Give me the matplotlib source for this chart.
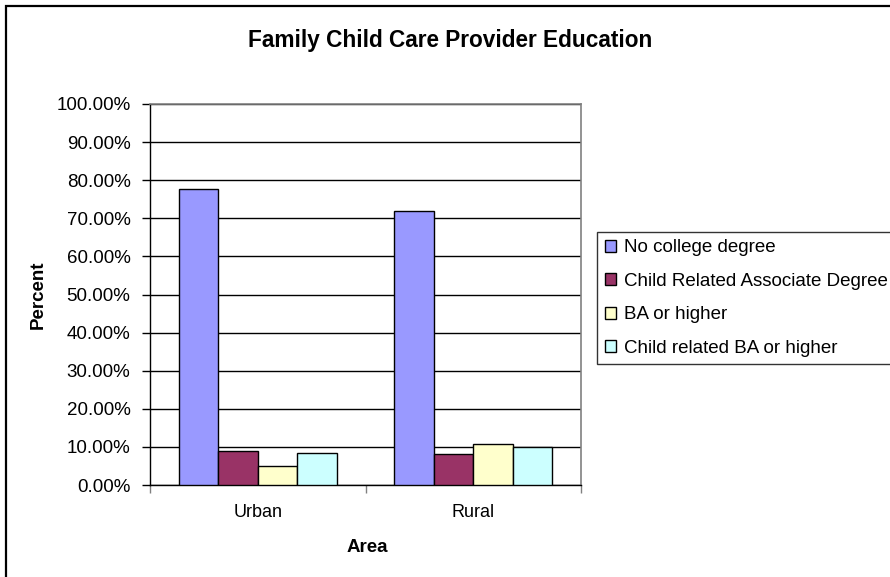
import numpy as np
import matplotlib
matplotlib.use("Agg")
import matplotlib.pyplot as plt
from matplotlib.patches import Rectangle

plt.rcParams["font.family"] = ["Liberation Sans", "DejaVu Sans"]

# --- data --------------------------------------------------------------------------
areas = ["Urban", "Rural"]
series = ["No college degree", "Child Related Associate Degree",
          "BA or higher", "Child related BA or higher"]
no_college = [77.7, 72.0]
assoc_degree = [8.8, 8.1]
ba_higher = [5.0, 10.7]
child_ba = [8.4, 10.0]
colors = ["#9999FF", "#993366", "#FFFFCC", "#CCFFFF"]
yticks = np.arange(0, 101, 10)

W, H = 890, 577
fig = plt.figure(figsize=(W / 100, H / 100), dpi=100)

# outer chart border (right/bottom run off the image)
fig.patches.append(Rectangle((6 / W, -0.1), 1.0, (H - 6) / H + 0.1,
                             transform=fig.transFigure, fill=False,
                             ec="black", lw=1.6, zorder=0))

ax = fig.add_axes([150 / W, 1 - 485 / H, 431 / W, 381 / H])

x = np.arange(len(areas))
bw = 0.183
vals = [no_college, assoc_degree, ba_higher, child_ba]
for k, (v, lab, col) in enumerate(zip(vals, series, colors)):
    ax.bar(x + (k - 1.5) * bw, v, bw, color=col, edgecolor="black", lw=1.0,
           label=lab, zorder=3)

ax.set_xlim(-0.5, 1.5)
ax.set_ylim(0, 100)
ax.set_yticks(yticks)
ax.set_yticklabels([f"{t:.2f}%" for t in yticks], fontsize=13.5)
ax.yaxis.grid(True, color="black", lw=1.0, zorder=0)
ax.set_axisbelow(True)

ax.set_xticks(x)
ax.set_xticklabels(areas, fontsize=13)
ax.tick_params(axis="x", which="major", length=0, pad=14)
ax.set_xticks([-0.5, 0.5, 1.5], minor=True)
ax.tick_params(axis="x", which="minor", length=6, color="#808080", width=1.0)
ax.tick_params(axis="y", length=6, width=1.0, pad=8)

for s in ["left", "bottom"]:
    ax.spines[s].set_color("black")
    ax.spines[s].set_linewidth(1.0)
for s in ["top", "right"]:
    ax.spines[s].set_color("#808080")
    ax.spines[s].set_linewidth(1.2)

fig.text(450 / W, 1 - 40 / H, "Family Child Care Provider Education",
         ha="center", va="center", fontsize=16.3, fontweight="bold")
fig.text(367 / W, 1 - 547 / H, "Area", ha="center", va="center",
         fontsize=13.5, fontweight="bold")
fig.text(38 / W, 1 - 295 / H, "Percent", ha="center", va="center",
         fontsize=13.5, fontweight="bold", rotation=90)

leg = fig.legend(loc="upper left", bbox_to_anchor=(597 / W, 1 - 232 / H),
                 fontsize=13.5, frameon=True, fancybox=False, edgecolor="black",
                 borderaxespad=0, borderpad=0.4, handlelength=0.6,
                 handleheight=0.6, handletextpad=0.45, labelspacing=0.88)
leg.get_frame().set_linewidth(1.0)

fig.savefig("out.png", dpi=100)
